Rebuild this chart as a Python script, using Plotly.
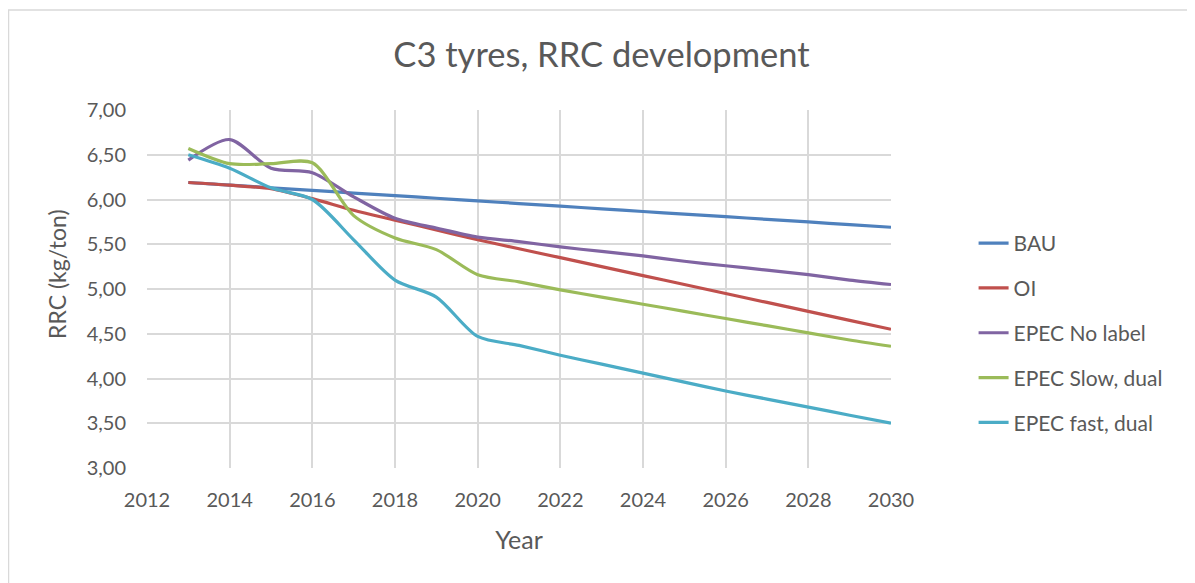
import plotly.graph_objects as go

years = list(range(2013, 2031))

bau = [6.190, 6.161, 6.131, 6.102, 6.072, 6.043, 6.014, 5.984, 5.955,
       5.925, 5.896, 5.866, 5.837, 5.808, 5.778, 5.749, 5.719, 5.690]
oi = [6.19, 6.16, 6.12, 6.01, 5.88, 5.77, 5.66, 5.55, 5.45,
      5.35, 5.25, 5.15, 5.05, 4.95, 4.85, 4.75, 4.65, 4.55]
epec_no_label = [6.44, 6.67, 6.35, 6.30, 6.03, 5.79, 5.68, 5.58, 5.53,
                 5.47, 5.42, 5.37, 5.31, 5.26, 5.21, 5.16, 5.10, 5.05]
epec_slow = [6.57, 6.40, 6.40, 6.41, 5.82, 5.57, 5.44, 5.16, 5.08,
             4.99, 4.91, 4.83, 4.75, 4.67, 4.59, 4.51, 4.43, 4.36]
epec_fast = [6.50, 6.35, 6.13, 6.00, 5.55, 5.10, 4.91, 4.47, 4.37,
             4.26, 4.16, 4.06, 3.96, 3.86, 3.77, 3.68, 3.59, 3.50]

series = [
    ("BAU", bau, "#4F81BD"),
    ("OI", oi, "#C0504D"),
    ("EPEC No label", epec_no_label, "#8064A2"),
    ("EPEC Slow, dual", epec_slow, "#9BBB59"),
    ("EPEC fast, dual", epec_fast, "#4BACC6"),
]

FONT = "Lato"
GREY = "#595959"
# page body has an 8px margin, so the figure is a bit smaller than the window
W, H = 1187, 575
L, T = 139, 102
PW, PH = 744, 358
R, B = W - L - PW, H - T - PH

fig = go.Figure()
for name, values, color in series:
    fig.add_trace(go.Scatter(
        x=years, y=values, name=name, mode="lines",
        line=dict(color=color, width=3.2, shape="spline", smoothing=0.8),
        legendgroup=name,
    ))

# outer chart border (Excel chart area), bottom edge falls outside the window
fig.add_shape(
    type="rect", xref="paper", yref="paper",
    x0=-(L - 0.5) / PW, x1=(W - 1 - L) / PW,
    y0=-(B + 20) / PH, y1=(T - 2) / PH + 1,
    line=dict(color="#d9d9d9", width=1.5),
)

# y axis title placed by hand (Excel puts it a little above centre)
fig.add_annotation(
    text="RRC (kg/ton)", textangle=-90, showarrow=False,
    xref="paper", yref="paper", x=-(L - 49) / PW, y=1 - 164 / PH,
    xanchor="center", yanchor="middle",
    font=dict(size=23, color=GREY, family=FONT),
)

fig.update_layout(
    width=W, height=H,
    margin=dict(l=L, r=R, t=T, b=B),
    paper_bgcolor="white", plot_bgcolor="white",
    separators=",.",
    font=dict(family=FONT, color=GREY, size=20),
    title=dict(text="C3 tyres, RRC development", x=0.5, xref="container",
               xanchor="center", y=1 - 47 / H, yanchor="middle",
               font=dict(size=34.5, color=GREY, family=FONT)),
    xaxis=dict(range=[2012, 2030], dtick=2, tick0=2012,
               showgrid=True, gridcolor="#d9d9d9", gridwidth=1.5,
               zeroline=False, showline=False, ticks="",
               ticklabelstandoff=18, tickfont=dict(size=20),
               title=dict(text="Year", font=dict(size=25), standoff=21)),
    yaxis=dict(range=[3, 7], dtick=0.5, tickformat=".2f",
               showgrid=True, gridcolor="#d9d9d9", gridwidth=1.5,
               zeroline=False, showline=False, ticks="",
               ticklabelstandoff=20, tickfont=dict(size=20)),
    legend=dict(x=1.111, xanchor="left", y=1 - 223 / PH, yanchor="middle",
                font=dict(size=21, color=GREY), tracegroupgap=14.5,
                traceorder="grouped", bgcolor="rgba(0,0,0,0)"),
)

fig.write_html("out.html")
